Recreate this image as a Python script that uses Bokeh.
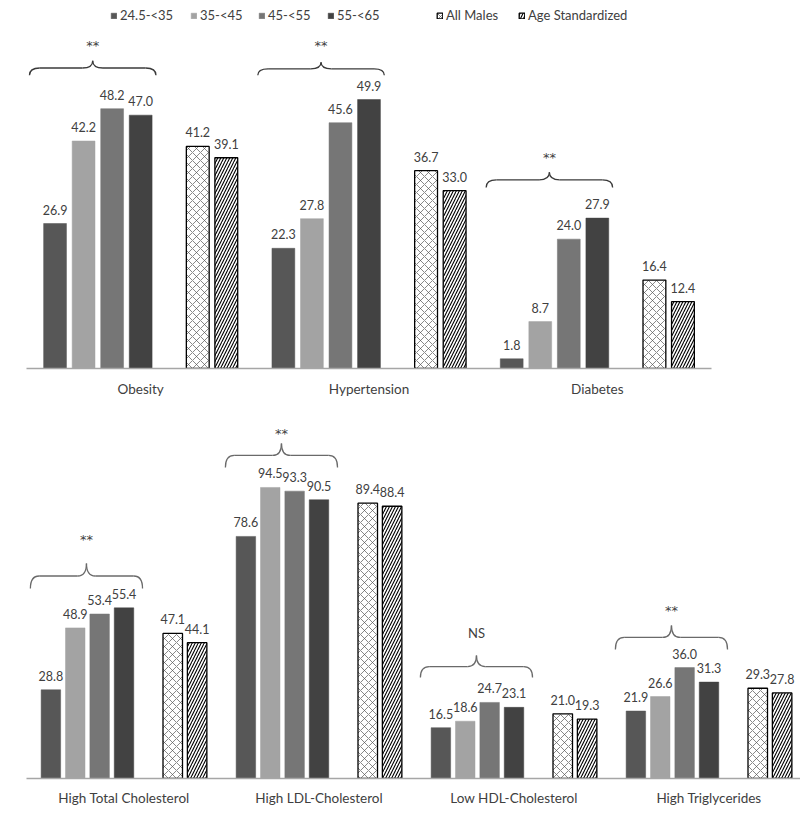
from bokeh.plotting import figure
from bokeh.models import (Legend, LegendItem, FixedTicker, Range1d, ColumnDataSource)
from bokeh.layouts import column
from bokeh.embed import file_html
from bokeh.resources import INLINE
from bokeh.core.properties import value

# ---------------- data ----------------
series_names = ["24.5-<35", "35-<45", "45-<55", "55-<65", "All Males", "Age Standardized"]

top_categories = ["Obesity", "Hypertension", "Diabetes"]
top_age_24 = [26.9, 22.3, 1.8]
top_age_35 = [42.2, 27.8, 8.7]
top_age_45 = [48.2, 45.6, 24.0]
top_age_55 = [47.0, 49.9, 27.9]
top_all_males = [41.2, 36.7, 16.4]
top_age_std = [39.1, 33.0, 12.4]
top_sig = ["**", "**", "**"]
top_brace_base = [54.4, 54.4, 33.6]
top_brace_tip = [57.1, 56.8, 36.4]
top_sig_level = [59.9, 59.9, 39.1]

bottom_categories = ["High Total Cholesterol", "High LDL-Cholesterol",
                     "Low HDL-Cholesterol", "High Triglycerides"]
bot_age_24 = [28.8, 78.6, 16.5, 21.9]
bot_age_35 = [48.9, 94.5, 18.6, 26.6]
bot_age_45 = [53.4, 93.3, 24.7, 36.0]
bot_age_55 = [55.4, 90.5, 23.1, 31.3]
bot_all_males = [47.1, 89.4, 21.0, 29.3]
bot_age_std = [44.1, 88.4, 19.3, 27.8]
bot_sig = ["**", "**", "NS", "**"]
bot_brace_base = [61.7, 101.0, 32.8, 41.9]
bot_brace_tip = [69.8, 108.8, 39.9, 49.7]
bot_sig_level = [77.6, 112.0, 47.4, 54.5]

# ---------------- styling ----------------
FONT = "Lato"
TXT = "#404040"
fills = ["#575757", "#A3A3A3", "#767676", "#424242"]
slot_offsets = [-0.375, -0.25, -0.125, 0.0, 0.25, 0.375]   # slot 4 (0.125) stays empty
BAR_W = 0.1


def make_panel(cats, series, sig, b_base, b_tip, s_level, frame_w, frame_h, ymax,
               border_left, border_right, border_bottom, brace_color, b_left, b_right,
               standoff):
    p = figure(frame_width=frame_w, frame_height=frame_h, output_backend="svg",
               toolbar_location=None, y_axis_location=None,
               x_range=Range1d(-0.5, len(cats) - 0.5), y_range=Range1d(0, ymax),
               min_border_left=border_left, min_border_right=border_right,
               min_border_top=0, min_border_bottom=border_bottom)
    p.outline_line_color = None
    p.grid.visible = False
    p.background_fill_color = "white"
    p.border_fill_color = "white"

    xs = list(range(len(cats)))
    renderers = []
    for k, vals in enumerate(series):
        xk = [x + slot_offsets[k] for x in xs]
        src = ColumnDataSource(dict(x=xk, top=vals, lab=[f"{v:.1f}" for v in vals]))
        if k < 4:
            r = p.vbar(x="x", top="top", width=BAR_W, source=src,
                       fill_color=fills[k], line_color=fills[k], line_width=0.5)
        elif k == 4:
            r = p.vbar(x="x", top="top", width=BAR_W, source=src,
                       fill_color="white", line_color="black", line_width=1.3,
                       hatch_pattern="diagonal_cross", hatch_color="#555555",
                       hatch_weight=0.7, hatch_scale=8)
        else:
            r = p.vbar(x="x", top="top", width=BAR_W, source=src,
                       fill_color="white", line_color="black", line_width=1.3,
                       hatch_pattern="right_diagonal_line", hatch_color="black",
                       hatch_weight=1.1, hatch_scale=6)
        renderers.append(r)
        p.text(x="x", y="top", text="lab", source=src, text_align="center",
               text_baseline="middle", y_offset=-14, text_font=value(FONT),
               text_font_size="12.5px", text_color=TXT)

    # significance braces
    rx = 0.045
    x0s, y0s, x1s, y1s, cxs, cys = [], [], [], [], [], []
    sx0, sy0, sx1, sy1 = [], [], [], []
    for i in xs:
        xl, xr = i + b_left, i + b_right
        xm = (xl + xr) / 2
        base, tip = b_base[i], b_tip[i]
        hz = base + 0.5 * (tip - base)
        for (a, b, c) in [((xl, base), (xl + rx, hz), (xl, hz)),
                          ((xm - rx, hz), (xm, tip), (xm, hz)),
                          ((xm, tip), (xm + rx, hz), (xm, hz)),
                          ((xr - rx, hz), (xr, base), (xr, hz))]:
            x0s.append(a[0]); y0s.append(a[1]); x1s.append(b[0]); y1s.append(b[1])
            cxs.append(c[0]); cys.append(c[1])
        sx0 += [xl + rx, xm + rx]; sx1 += [xm - rx, xr - rx]
        sy0 += [hz, hz]; sy1 += [hz, hz]
    p.quadratic(x0=x0s, y0=y0s, x1=x1s, y1=y1s, cx=cxs, cy=cys,
                line_color=brace_color, line_width=1.3)
    p.segment(x0=sx0, y0=sy0, x1=sx1, y1=sy1, line_color=brace_color, line_width=1.3)

    sx = [i + (b_left + b_right) / 2 for i in xs]
    star = [j for j, s in enumerate(sig) if s == "**"]
    other = [j for j, s in enumerate(sig) if s != "**"]
    p.text(x=[sx[j] for j in star], y=[s_level[j] for j in star],
           text=[sig[j] for j in star], text_align="center", text_baseline="middle",
           text_font=value("DejaVu Sans"), text_font_size="13px", text_color=TXT)
    if other:
        p.text(x=[sx[j] for j in other], y=[s_level[j] for j in other],
               text=[sig[j] for j in other], text_align="center", text_baseline="middle",
               text_font=value(FONT), text_font_size="13px", text_color=TXT)

    ax = p.xaxis[0]
    ax.ticker = FixedTicker(ticks=xs)
    ax.major_label_overrides = {i: c for i, c in enumerate(cats)}
    ax.major_tick_line_color = None
    ax.minor_tick_line_color = None
    ax.axis_line_color = "#A6A6A6"
    ax.axis_line_width = 1.5
    ax.major_label_text_font = FONT
    ax.major_label_text_font_size = "13.5px"
    ax.major_label_text_color = TXT
    ax.major_label_standoff = standoff
    return p, renderers


top, top_r = make_panel(top_categories,
                        [top_age_24, top_age_35, top_age_45, top_age_55, top_all_males, top_age_std],
                        top_sig, top_brace_base, top_brace_tip, top_sig_level,
                        frame_w=685, frame_h=368, ymax=368 / 5.39,
                        border_left=26, border_right=89, border_bottom=42,
                        brace_color="#3a3a3a", b_left=-0.487, b_right=0.067, standoff=6)

bottom, _ = make_panel(bottom_categories,
                       [bot_age_24, bot_age_35, bot_age_45, bot_age_55, bot_all_males, bot_age_std],
                       bot_sig, bot_brace_base, bot_brace_tip, bot_sig_level,
                       frame_w=780, frame_h=368, ymax=368 / 3.08,
                       border_left=10, border_right=10, border_bottom=34,
                       brace_color="#6a6a6a", b_left=-0.48, b_right=0.095, standoff=5)

# legend: one small legend per entry, placed at the reference positions
legend_x = [84, 164, 232, 301, 410, 492]
for name, r, lx in zip(series_names, top_r, legend_x):
    leg = Legend(items=[LegendItem(label=name, renderers=[r])], location=(lx, 345),
                 orientation="horizontal", glyph_width=7, glyph_height=7,
                 label_standoff=3, padding=0, margin=0, spacing=0,
                 border_line_alpha=0, background_fill_alpha=0,
                 label_text_font=FONT, label_text_font_size="13px",
                 label_text_color=TXT, label_height=14)
    top.add_layout(leg)

layout = column(top, bottom, spacing=0)
open("out.html", "w").write(file_html(layout, INLINE))
